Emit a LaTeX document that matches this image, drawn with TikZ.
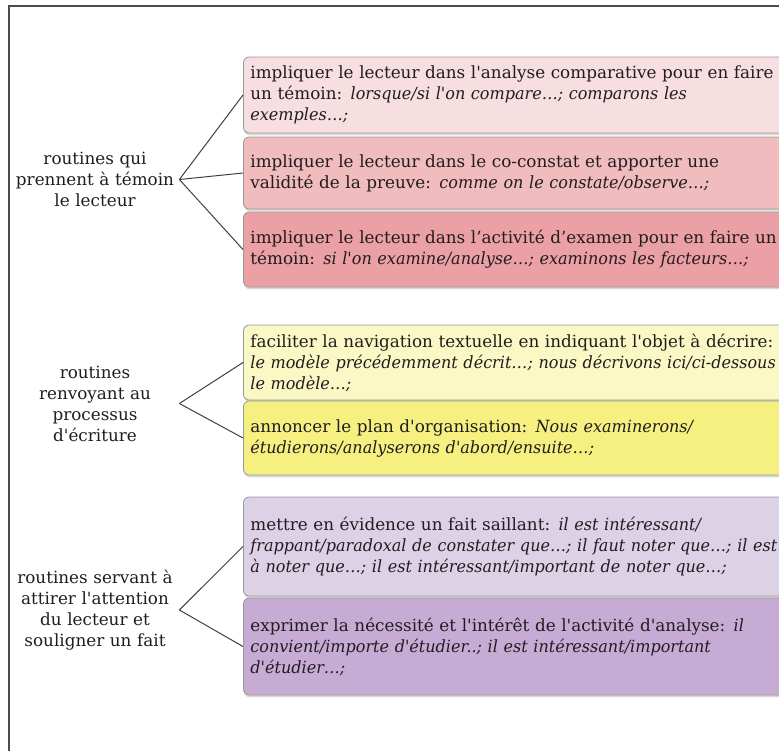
\documentclass[tikz,border=0pt]{standalone}
\usepackage{fontspec}
\setmainfont{DejaVu Serif}[Ligatures=TeXOff, ItalicFeatures={FakeStretch=0.955}]
\usetikzlibrary{shadows}
\definecolor{rosea}{RGB}{247,222,224}
\definecolor{roseb}{RGB}{240,188,190}
\definecolor{rosec}{RGB}{234,160,164}
\definecolor{jaunea}{RGB}{250,248,196}
\definecolor{jauneb}{RGB}{245,240,128}
\definecolor{mauvea}{RGB}{221,209,230}
\definecolor{mauveb}{RGB}{198,172,212}
\definecolor{encre}{RGB}{34,28,30}
\begin{document}
\begin{tikzpicture}[x=0.5pt,y=-0.5pt,
  routine/.style={text width=80pt, align=center, inner sep=2pt, text=encre, font=\fontsize{8.4}{10.5}\selectfont},
  exemple/.style={anchor=west, draw=black!40, rounded corners=3pt, text width=280pt, align=left, inner xsep=3.5pt, inner ysep=0pt, text=encre, font=\fontsize{8.4}{10.5}\selectfont, drop shadow={shadow xshift=0.3pt, shadow yshift=-1.2pt, opacity=0.3}},
  lien/.style={draw=black!75, line width=0.5pt}]
\useasboundingbox (0,0) rectangle (779,750);
\clip (0,0) rectangle (779,750);
\draw[line width=0.8pt, black!70] (9,6) rectangle (840,800);
\node[routine] (r1) at (95,179.5) {routines qui\\prennent à témoin\\le lecteur};
\node[routine] (r2) at (95,403.5) {routines\\renvoyant au\\processus\\d'écriture};
\node[routine] (r3) at (95,610) {routines servant à\\attirer l'attention\\du lecteur et\\souligner un fait};
\node[exemple, fill=rosea, minimum height=38pt] (b1) at (243,95) {impliquer le lecteur dans l'analyse comparative pour en faire\\un témoin: \textit{lorsque/si l'on compare…; comparons les}\\\textit{exemples…;}};
\node[exemple, fill=roseb, minimum height=36pt] (b2) at (243,173) {impliquer le lecteur dans le co-constat et apporter une\\validité de la preuve: \textit{comme on le constate/observe…;}};
\node[exemple, fill=rosec, minimum height=37.5pt] (b3) at (243,249.5) {impliquer le lecteur dans l’activité d’examen pour en faire un\\témoin: \textit{si l'on examine/analyse…; examinons les facteurs…;}};
\node[exemple, fill=jaunea, minimum height=37.5pt] (b4) at (243,362.5) {faciliter la navigation textuelle en indiquant l'objet à décrire:\\\textit{le modèle précédemment décrit…; nous décrivons ici/ci-dessous}\\\textit{le modèle…;}};
\node[exemple, fill=jauneb, minimum height=37pt] (b5) at (243,438) {annoncer le plan d'organisation: \textit{Nous examinerons/}\\\textit{étudierons/analyserons d'abord/ensuite…;}};
\node[exemple, fill=mauvea, minimum height=49.5pt] (b6) at (243,546.5) {mettre en évidence un fait saillant: \textit{il est intéressant/}\\\textit{frappant/paradoxal de constater que…; il faut noter que…; il est}\\\textit{à noter que…; il est intéressant/important de noter que…;}};
\node[exemple, fill=mauveb, minimum height=48.5pt] (b7) at (243,646.5) {exprimer la nécessité et l'intérêt de l'activité d'analyse: \textit{il}\\\textit{convient/importe d'étudier..; il est intéressant/important}\\\textit{d'étudier…;}};
\draw[lien] (r1.east) -- (b1.west);
\draw[lien] (r1.east) -- (b2.west);
\draw[lien] (r1.east) -- (b3.west);
\draw[lien] (r2.east) -- (b4.west);
\draw[lien] (r2.east) -- (b5.west);
\draw[lien] (r3.east) -- (b6.west);
\draw[lien] (r3.east) -- (b7.west);
\end{tikzpicture}
\end{document}
